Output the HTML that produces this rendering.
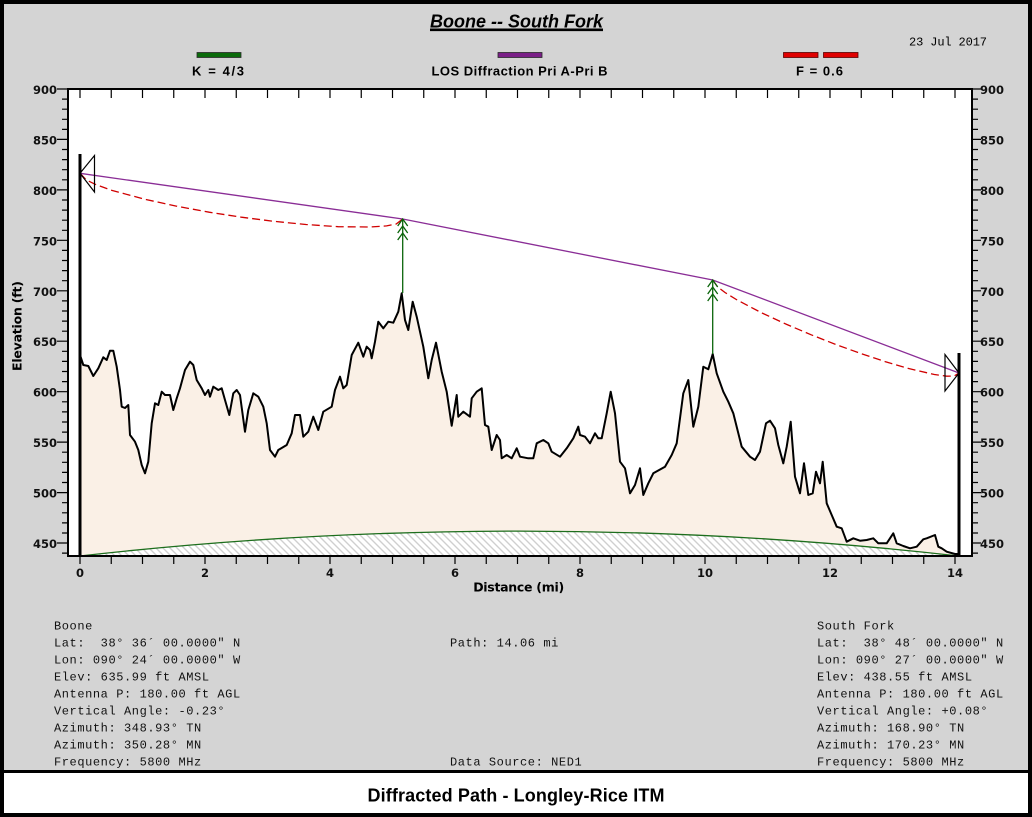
<!DOCTYPE html>
<html><head><meta charset="utf-8"><style>
html,body{margin:0;padding:0;background:#000;}
svg{display:block;}
</style></head><body>
<svg width="1032" height="817" viewBox="0 0 1032 817" xmlns="http://www.w3.org/2000/svg">
<defs>
<pattern id="hatch" patternUnits="userSpaceOnUse" width="7" height="7">
<rect width="7" height="7" fill="#ffffff"/>
<path d="M0,0 L7,7 M-1,6 L1,8 M6,-1 L8,1" stroke="#cfcfcf" stroke-width="1.4"/>
</pattern>
</defs>
<rect x="0" y="0" width="1032" height="817" fill="#000"/>
<rect x="4" y="4" width="1024" height="766" fill="#d4d4d4"/>
<rect x="4" y="773" width="1024" height="40" fill="#ffffff"/>

<!-- title -->
<text x="516.5" y="27.5" text-anchor="middle" font-family="Liberation Sans, Arial, sans-serif" font-size="18" font-weight="bold" font-style="italic" textLength="173" text-decoration="underline">Boone -- South Fork</text>
<line x1="430" y1="30.5" x2="603" y2="30.5" stroke="#000" stroke-width="1.3"/>
<text x="909" y="45.3" font-family="Liberation Mono, DejaVu Sans Mono, monospace" font-size="12" textLength="78">23 Jul 2017</text>

<!-- legend -->
<rect x="197" y="52.5" width="44" height="5" fill="#0b6b0b" stroke="#2a2a2a" stroke-width="0.8"/>
<text x="218" y="75.5" text-anchor="middle" font-family="Liberation Sans, Arial, sans-serif" font-size="13" font-weight="bold" textLength="52">K = 4/3</text>
<rect x="498" y="52.5" width="44" height="5" fill="#7a1f87" stroke="#2a2a2a" stroke-width="0.8"/>
<text x="519.5" y="75.5" text-anchor="middle" font-family="Liberation Sans, Arial, sans-serif" font-size="13" font-weight="bold" textLength="176">LOS Diffraction Pri A-Pri B</text>
<rect x="783.5" y="52.5" width="34.5" height="5" fill="#e00000" stroke="#5a0000" stroke-width="0.8"/>
<rect x="823.5" y="52.5" width="34.5" height="5" fill="#e00000" stroke="#5a0000" stroke-width="0.8"/>
<text x="819.5" y="75.5" text-anchor="middle" font-family="Liberation Sans, Arial, sans-serif" font-size="13" font-weight="bold" textLength="47">F = 0.6</text>

<!-- plot background -->
<rect x="68" y="89" width="904" height="467" fill="#ffffff"/>

<!-- terrain -->
<polygon fill="#faf0e6" points="80,556 80,355 83.3,365 88.3,366 93.3,376 98.3,368.3 103.3,357.3 106.7,360 110,350.7 113.3,350.7 116.7,366.7 120,390 121.7,406.7 125,408 128.3,405 130,435 135,441.7 138.3,450 141.7,465 145,473.3 148.3,461.7 151.7,423.3 155,403.3 158.3,405 161.7,391.7 165,395 170,395 173.3,410 176.7,398.3 180,388.3 185,370 190,361.7 193.3,365 196.7,380 201.7,388.3 205,395 208.3,390 210,396.7 213.3,386.7 218.3,390 221.7,388.3 225,400 229.3,415 233.3,393.3 236.7,390 240,395 245,431.7 248.3,410 253.3,393.3 258.3,396.7 263.3,406.7 266.7,423.3 270,450 275,456.7 278.3,450 286.7,445 291.7,433.3 295,415 300,415 303.3,436.7 308.3,431.7 313.3,416.7 318.3,430 323.3,411.7 331.7,406.7 335,390 340,376.7 343.3,388.3 346.7,385 351.7,355 358.3,342.7 363.3,356.7 366.7,346.7 370,350 371.7,358.3 375,341.7 378.3,321.7 383.3,328.3 388.3,321.7 393.3,322.7 398.3,311.7 401.7,293.3 405,320 408.3,330 412.7,301.7 416.7,316.7 423.3,346.7 428.3,378.3 431.7,360 436,342.7 441.7,371.7 446.7,391.7 451.7,425.7 456.7,395 458.3,416.7 463.3,411.7 470,416.7 471.7,398.3 476.7,391.7 481.7,388.3 485,425 488.3,426.7 491.7,450 496.7,435 500,440 501.7,458.3 506.7,455 511.7,458.3 516.7,448.3 520,456.7 528.3,458.3 533.3,458.3 536.7,443.3 543.3,440 548.3,443.3 551.7,451.7 560,456.7 566.7,448.3 573.3,438.3 578.3,426.7 580,435 585,436.7 590,443.3 595,433.3 598.3,438.3 601.7,438.3 606.7,413.3 610.7,391.7 615,413.3 620,461.7 625,468.3 630,493.3 635,485 640,468.3 643.3,495 648.3,483.3 653.3,473.3 665,466.7 671.7,455 676.7,443.3 683.3,393.3 688.3,380 693.3,426.7 698.3,406.7 703.3,366.7 708.3,369.3 712.7,354 716.7,373.3 723.3,391.7 728.3,401.7 733.3,413.3 741.7,446.7 750,456.7 755,460 760,451.7 766,423.3 770,420.7 775,428.3 778.3,445 783.3,463.3 786.7,446.7 790.7,421.7 795,476.7 800,493.3 804,463.3 808.3,495 812.7,493.3 816,471.7 820,483.3 822.7,461.7 826.7,503.3 831.7,515 836.7,526.7 841.7,528.3 846.7,541.7 853.3,538.3 860,540.7 866.7,540 873.3,538.3 878.3,543.3 886.7,543.3 893.3,533.3 896.7,543.3 903.3,546 910,548.3 916.7,546.7 923.3,539.3 926.7,538.3 935,535 938.3,546.7 941.7,548.3 946.7,551.7 955,554 959,554 959,556"/>
<!-- earth curvature hatch -->
<path d="M80,556 Q519.4,506.2 958.75,556 Z" fill="url(#hatch)"/>
<path d="M80,556 Q519.4,506.2 958.75,556" fill="none" stroke="#1d6e1d" stroke-width="1.3"/>

<polyline fill="none" stroke="#000" stroke-width="2" stroke-linejoin="round" points="80,355 83.3,365 88.3,366 93.3,376 98.3,368.3 103.3,357.3 106.7,360 110,350.7 113.3,350.7 116.7,366.7 120,390 121.7,406.7 125,408 128.3,405 130,435 135,441.7 138.3,450 141.7,465 145,473.3 148.3,461.7 151.7,423.3 155,403.3 158.3,405 161.7,391.7 165,395 170,395 173.3,410 176.7,398.3 180,388.3 185,370 190,361.7 193.3,365 196.7,380 201.7,388.3 205,395 208.3,390 210,396.7 213.3,386.7 218.3,390 221.7,388.3 225,400 229.3,415 233.3,393.3 236.7,390 240,395 245,431.7 248.3,410 253.3,393.3 258.3,396.7 263.3,406.7 266.7,423.3 270,450 275,456.7 278.3,450 286.7,445 291.7,433.3 295,415 300,415 303.3,436.7 308.3,431.7 313.3,416.7 318.3,430 323.3,411.7 331.7,406.7 335,390 340,376.7 343.3,388.3 346.7,385 351.7,355 358.3,342.7 363.3,356.7 366.7,346.7 370,350 371.7,358.3 375,341.7 378.3,321.7 383.3,328.3 388.3,321.7 393.3,322.7 398.3,311.7 401.7,293.3 405,320 408.3,330 412.7,301.7 416.7,316.7 423.3,346.7 428.3,378.3 431.7,360 436,342.7 441.7,371.7 446.7,391.7 451.7,425.7 456.7,395 458.3,416.7 463.3,411.7 470,416.7 471.7,398.3 476.7,391.7 481.7,388.3 485,425 488.3,426.7 491.7,450 496.7,435 500,440 501.7,458.3 506.7,455 511.7,458.3 516.7,448.3 520,456.7 528.3,458.3 533.3,458.3 536.7,443.3 543.3,440 548.3,443.3 551.7,451.7 560,456.7 566.7,448.3 573.3,438.3 578.3,426.7 580,435 585,436.7 590,443.3 595,433.3 598.3,438.3 601.7,438.3 606.7,413.3 610.7,391.7 615,413.3 620,461.7 625,468.3 630,493.3 635,485 640,468.3 643.3,495 648.3,483.3 653.3,473.3 665,466.7 671.7,455 676.7,443.3 683.3,393.3 688.3,380 693.3,426.7 698.3,406.7 703.3,366.7 708.3,369.3 712.7,354 716.7,373.3 723.3,391.7 728.3,401.7 733.3,413.3 741.7,446.7 750,456.7 755,460 760,451.7 766,423.3 770,420.7 775,428.3 778.3,445 783.3,463.3 786.7,446.7 790.7,421.7 795,476.7 800,493.3 804,463.3 808.3,495 812.7,493.3 816,471.7 820,483.3 822.7,461.7 826.7,503.3 831.7,515 836.7,526.7 841.7,528.3 846.7,541.7 853.3,538.3 860,540.7 866.7,540 873.3,538.3 878.3,543.3 886.7,543.3 893.3,533.3 896.7,543.3 903.3,546 910,548.3 916.7,546.7 923.3,539.3 926.7,538.3 935,535 938.3,546.7 941.7,548.3 946.7,551.7 955,554 959,554"/>

<!-- LOS line -->
<polyline fill="none" stroke="#8a2d96" stroke-width="1.3" points="80,173.3 402.7,219 712.7,280 959,373"/>
<!-- Fresnel -->
<polyline fill="none" stroke="#d00000" stroke-width="1.3" stroke-dasharray="8 4" points="80,173.3 86.5,180.1 96.1,184.7 112.3,190.5 144.5,199.2 176.8,206.2 209.1,212.2 241.4,217.2 273.6,221.3 305.9,224.5 338.2,226.7 370.4,227 386.6,225.9 396.2,224 402.7,219"/>
<polyline fill="none" stroke="#d00000" stroke-width="1.3" stroke-dasharray="8 4" points="712.7,280 717.6,286.9 725,292.5 737.3,300.1 762,313 786.6,324.4 811.2,334.8 835.9,344.5 860.5,353.4 885.1,361.6 909.7,368.8 934.4,374.5 946.7,376.2 954.1,376.1 959,373"/>

<!-- obstruction arrows -->
<g fill="none" stroke="#0a640a" stroke-width="1.3">
<line x1="402.7" y1="219" x2="402.7" y2="293"/>
<polyline points="397.7,226 402.7,219 407.7,226"/>
<polyline points="397.7,233 402.7,226 407.7,233"/>
<polyline points="397.7,240 402.7,233 407.7,240"/>
<line x1="712.7" y1="280" x2="712.7" y2="354"/>
<polyline points="707.7,287 712.7,280 717.7,287"/>
<polyline points="707.7,294 712.7,287 717.7,294"/>
<polyline points="707.7,301 712.7,294 717.7,301"/>
</g>

<!-- towers -->
<line x1="80" y1="154" x2="80" y2="556" stroke="#000" stroke-width="3"/>
<line x1="959" y1="353" x2="959" y2="556" stroke="#000" stroke-width="3"/>
<polygon points="80,173.3 94.5,155.5 94.5,192" fill="none" stroke="#000" stroke-width="1.2"/>
<polygon points="959,373 945,354.5 945,391" fill="none" stroke="#000" stroke-width="1.2"/>

<!-- frame -->
<rect x="68" y="89" width="904" height="467" fill="none" stroke="#000" stroke-width="2"/>

<!-- y ticks -->
<g stroke="#000" stroke-width="1.2">
<path d="M57,89H68M62,99.1H68M62,109.2H68M62,119.3H68M62,129.4H68M57,139.4H68M62,149.5H68M62,159.6H68M62,169.7H68M62,179.8H68M57,189.9H68M62,200H68M62,210.1H68M62,220.2H68M62,230.3H68M57,240.3H68M62,250.4H68M62,260.5H68M62,270.6H68M62,280.7H68M57,290.8H68M62,300.9H68M62,311H68M62,321.1H68M62,331.2H68M57,341.2H68M62,351.3H68M62,361.4H68M62,371.5H68M62,381.6H68M57,391.7H68M62,401.8H68M62,411.9H68M62,422H68M62,432.1H68M57,442.1H68M62,452.2H68M62,462.3H68M62,472.4H68M62,482.5H68M57,492.6H68M62,502.7H68M62,512.8H68M62,522.9H68M62,533H68M57,543H68M62,553.1H68"/>
<path d="M972,89H981M972,99.1H978M972,109.2H978M972,119.3H978M972,129.4H978M972,139.4H981M972,149.5H978M972,159.6H978M972,169.7H978M972,179.8H978M972,189.9H981M972,200H978M972,210.1H978M972,220.2H978M972,230.3H978M972,240.3H981M972,250.4H978M972,260.5H978M972,270.6H978M972,280.7H978M972,290.8H981M972,300.9H978M972,311H978M972,321.1H978M972,331.2H978M972,341.2H981M972,351.3H978M972,361.4H978M972,371.5H978M972,381.6H978M972,391.7H981M972,401.8H978M972,411.9H978M972,422H978M972,432.1H978M972,442.1H981M972,452.2H978M972,462.3H978M972,472.4H978M972,482.5H978M972,492.6H981M972,502.7H978M972,512.8H978M972,522.9H978M972,533H978M972,543H981M972,553.1H978"/>
</g>
<!-- x ticks -->
<g stroke="#000" stroke-width="1.2">
<path d="M80,556V564M111.25,556V564M142.5,556V564M173.75,556V564M205,556V564M236.25,556V564M267.5,556V564M298.75,556V564M330,556V564M361.25,556V564M392.5,556V564M423.75,556V564M455,556V564M486.25,556V564M517.5,556V564M548.75,556V564M580,556V564M611.25,556V564M642.5,556V564M673.75,556V564M705,556V564M736.25,556V564M767.5,556V564M798.75,556V564M830,556V564M861.25,556V564M892.5,556V564M923.75,556V564M955,556V564"/>
<path d="M80,89V98M111.25,89V98M142.5,89V98M173.75,89V98M205,89V98M236.25,89V98M267.5,89V98M298.75,89V98M330,89V98M361.25,89V98M392.5,89V98M423.75,89V98M455,89V98M486.25,89V98M517.5,89V98M548.75,89V98M580,89V98M611.25,89V98M642.5,89V98M673.75,89V98M705,89V98M736.25,89V98M767.5,89V98M798.75,89V98M830,89V98M861.25,89V98M892.5,89V98M923.75,89V98M955,89V98"/>
</g>

<!-- y labels -->
<g font-family="DejaVu Sans, Verdana, sans-serif" font-size="11.5" font-weight="bold" fill="#111">
<g text-anchor="end">
<text x="57" y="94">900</text><text x="57" y="144.4">850</text><text x="57" y="194.9">800</text><text x="57" y="245.3">750</text><text x="57" y="295.8">700</text><text x="57" y="346.2">650</text><text x="57" y="396.7">600</text><text x="57" y="447.1">550</text><text x="57" y="497.6">500</text><text x="57" y="548">450</text>
</g>
<text x="980" y="94">900</text><text x="980" y="144.4">850</text><text x="980" y="194.9">800</text><text x="980" y="245.3">750</text><text x="980" y="295.8">700</text><text x="980" y="346.2">650</text><text x="980" y="396.7">600</text><text x="980" y="447.1">550</text><text x="980" y="497.6">500</text><text x="980" y="548">450</text>
<g text-anchor="middle">
<text x="80" y="577">0</text><text x="205" y="577">2</text><text x="330" y="577">4</text><text x="455" y="577">6</text><text x="580" y="577">8</text><text x="705" y="577">10</text><text x="830" y="577">12</text><text x="955" y="577">14</text>
</g>
</g>
<text x="518.7" y="591.7" text-anchor="middle" font-family="DejaVu Sans, Verdana, sans-serif" font-size="12.5" font-weight="bold" textLength="91">Distance (mi)</text>
<text transform="translate(21.5,326) rotate(-90)" text-anchor="middle" font-family="DejaVu Sans, Verdana, sans-serif" font-size="12.5" font-weight="bold" textLength="90">Elevation (ft)</text>

<!-- info text -->
<g font-family="Liberation Mono, DejaVu Sans Mono, monospace" font-size="12" letter-spacing="0.58" fill="#111">
<text x="54" y="629.3">Boone</text>
<text x="54" y="646.3" xml:space="preserve">Lat:  38° 36´ 00.0000" N</text>
<text x="54" y="663.3">Lon: 090° 24´ 00.0000" W</text>
<text x="54" y="680.3">Elev: 635.99 ft AMSL</text>
<text x="54" y="697.3">Antenna P: 180.00 ft AGL</text>
<text x="54" y="714.3">Vertical Angle: -0.23°</text>
<text x="54" y="731.3">Azimuth: 348.93° TN</text>
<text x="54" y="748.3">Azimuth: 350.28° MN</text>
<text x="54" y="765.3">Frequency: 5800 MHz</text>
<text x="450" y="646.3">Path: 14.06 mi</text>
<text x="450" y="765.3">Data Source: NED1</text>
<text x="817" y="629.3">South Fork</text>
<text x="817" y="646.3" xml:space="preserve">Lat:  38° 48´ 00.0000" N</text>
<text x="817" y="663.3">Lon: 090° 27´ 00.0000" W</text>
<text x="817" y="680.3">Elev: 438.55 ft AMSL</text>
<text x="817" y="697.3">Antenna P: 180.00 ft AGL</text>
<text x="817" y="714.3">Vertical Angle: +0.08°</text>
<text x="817" y="731.3">Azimuth: 168.90° TN</text>
<text x="817" y="748.3">Azimuth: 170.23° MN</text>
<text x="817" y="765.3">Frequency: 5800 MHz</text>
</g>

<text x="516" y="801.7" text-anchor="middle" font-family="Liberation Sans, Arial, sans-serif" font-size="18" font-weight="bold" textLength="297">Diffracted Path - Longley-Rice ITM</text>
</svg>
</body></html>
